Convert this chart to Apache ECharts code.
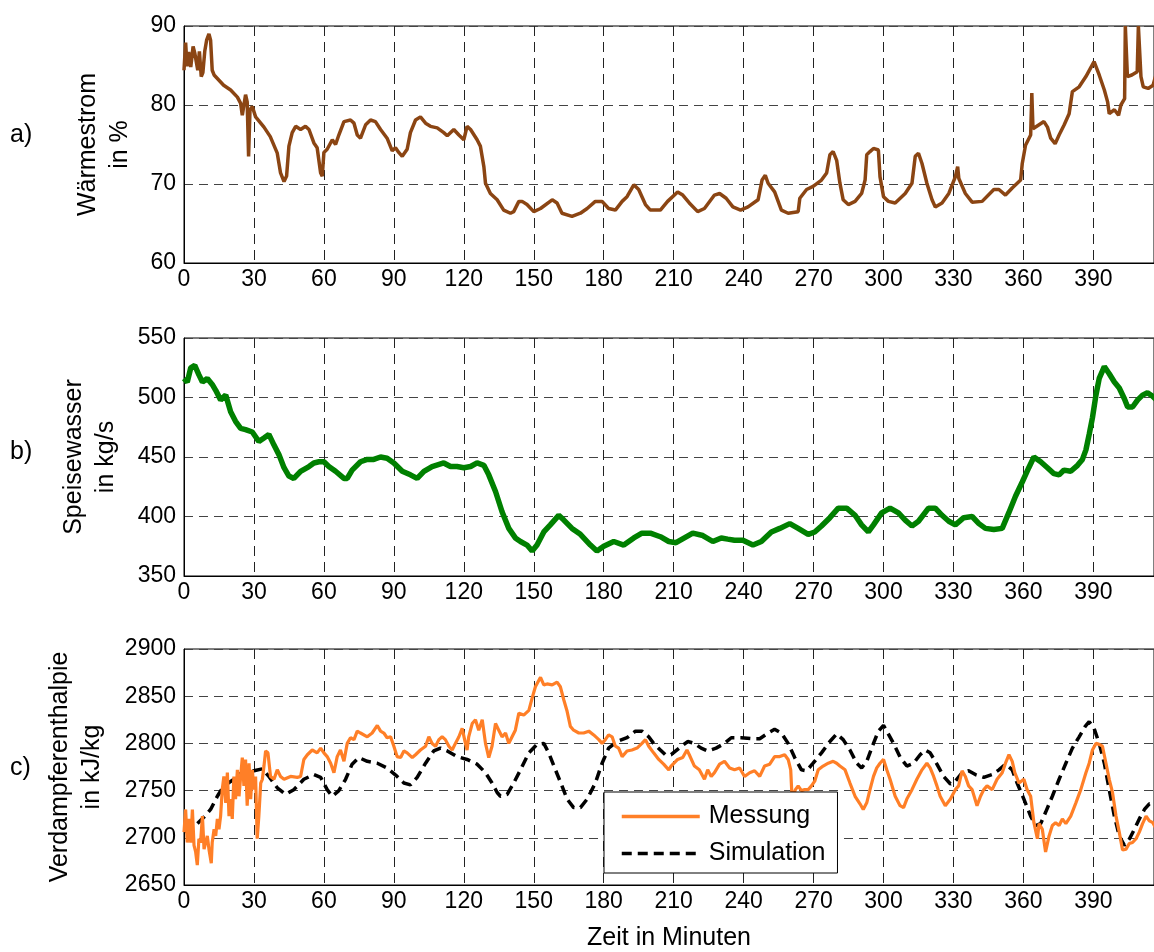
<!DOCTYPE html>
<html>
<head>
<meta charset="utf-8">
<script src="https://cdn.jsdelivr.net/npm/echarts@6/dist/echarts.min.js"></script>
<style>
  html, body { margin: 0; padding: 0; overflow: hidden; background: #fff; }
  #chart { width: 1160px; height: 952px; }
</style>
</head>
<body>
<div id="chart"></div>
<script>
// Panel captions, axis titles and legend entries
const panelLabels = ['a)', 'b)', 'c)'];
const yAxisTitles = ['Wärmestrom\nin %', 'Speisewasser\nin kg/s', 'Verdampferenthalpie\nin kJ/kg'];
const xAxisTitle = 'Zeit in Minuten';
const seriesNames = ['Messung', 'Simulation'];

// Axis ranges [min, max, interval]
const timeRange = [0, 416, 30];
const heatRange = [60, 90, 10];
const waterRange = [350, 550, 50];
const enthalpyRange = [2650, 2900, 50];

// a) Wärmestrom in % over time in minutes: [t, value]
const heatFlow = [
  [0,84.4],[0.7,87.9],[1.3,84.9],[2,86.7],[2.9,84.8],[3.9,87.4],[4.6,86.6],[5.9,84.4],[6.6,86.8],[7.4,83.6],
  [8.1,84.1],[8.9,86.8],[9.7,88.2],[10.7,89.0],[11.4,88.2],[12.1,84.4],[12.9,83.8],[17,82.5],[20,81.9],[22.9,81.0],
  [24.3,80.2],[25,78.7],[26.4,81.3],[27.1,80.4],[27.7,73.5],[28.3,79.4],[29.3,79.8],[30.7,78.5],[34.3,77.2],[37,76.0],
  [40,73.9],[41.4,71.4],[42.9,70.3],[44,71.0],[45,74.8],[46.4,76.5],[47.9,77.3],[50,76.9],[52.1,77.3],[53.6,76.9],
  [55.7,75.2],[57.1,74.6],[58.6,71.4],[59.3,71.0],[60,74.0],[61.4,74.4],[63.6,75.6],[65,75.0],[66.4,76.2],[68.6,77.9],
  [71.4,78.1],[72.9,77.7],[74.3,76.2],[75.7,75.8],[77.9,77.5],[80,78.1],[82.1,77.9],[84.3,76.9],[87.1,75.8],[89.3,74.2],
  [90.7,74.6],[92.1,74.0],[93.6,73.5],[95.7,74.4],[97.1,76.5],[99.3,78.1],[101.4,78.5],[103.6,77.7],[105.7,77.3],[108.6,77.1],
  [111.4,76.5],[112.9,76.1],[115.7,76.9],[117.9,76.2],[120,75.6],[121.4,77.3],[122.9,76.9],[125.7,75.6],[127.1,74.8],[128.6,72.2],
  [129.3,70.1],[131.4,68.8],[134.3,68.0],[137.1,66.7],[140,66.3],[141.4,66.5],[143.6,67.8],[145,67.8],[147.1,67.4],[150,66.5],
  [152.9,66.9],[157.9,68.0],[160,67.6],[162.1,66.3],[166.4,65.9],[170,66.3],[172.9,66.9],[176.4,67.8],[179.3,67.8],[182.1,66.9],
  [185,66.7],[187.9,67.8],[190,68.4],[192.9,69.9],[195,69.3],[197.9,67.4],[200,66.7],[204.3,66.7],[207.4,67.8],[211.7,69.0],
  [213.9,68.6],[216.7,67.6],[220.3,66.5],[223.2,66.9],[227.5,68.6],[229.7,68.8],[232.5,68.2],[235.4,67.1],[238.7,66.7],[241.9,67.1],
  [246.2,68.0],[247.9,70.5],[249.3,71.1],[250.5,70.1],[253.3,69.0],[256.2,66.7],[259.1,66.3],[263.4,66.5],[264.1,68.2],[267,69.3],
  [269.8,69.7],[273.4,70.5],[275.6,71.4],[277,73.7],[278.4,74.1],[279.9,73.0],[281.3,70.1],[282.7,68.0],[284.9,67.4],[287.8,67.8],
  [290.6,68.8],[292.1,70.5],[292.8,73.7],[294.2,74.1],[295.7,74.5],[297.8,74.3],[298.5,70.9],[300,68.4],[302.1,67.8],[305,67.6],
  [309.3,68.8],[312.2,70.1],[313.6,73.5],[315,73.9],[316.5,72.6],[318.6,70.1],[320.8,68.0],[322.2,67.1],[325.1,67.6],[328,68.8],
  [330.8,70.9],[331.8,72.2],[332.3,70.7],[335.1,68.8],[338,67.7],[342.3,67.8],[347.3,69.3],[349.5,69.3],[352.3,68.6],[355.2,69.5],
  [358.8,70.5],[359.5,72.6],[360.9,74.9],[363.1,76.2],[363.6,81.5],[364.1,77.0],[366.7,77.5],[368.8,77.9],[370.3,77.2],[371.7,75.8],
  [373.6,75.1],[375.3,76.2],[377.5,77.5],[379.6,78.9],[381,81.7],[383.9,82.3],[386.8,83.6],[390.3,85.5],[392.5,83.8],[394.7,81.9],
  [396.1,80.4],[396.8,78.9],[399,79.4],[400.8,78.7],[401.8,80.0],[403.4,80.8],[403.7,90],[404.3,90],[404.6,83.6],[406.5,83.8],
  [408.8,84.2],[409.3,90],[410.1,90],[410.4,83.6],[411.4,82.3],[413.5,82.1],[415.6,82.5],[417,84.0]
];

// b) Speisewasser in kg/s
const feedWater = [
  [0,516],[1.4,513],[2.9,525],[4.6,527],[6.4,519],[7.9,513],[10,516],[12.1,511],[13.6,506],[15.7,498],
  [17.9,502],[20,488],[22.1,480],[24.3,474],[26.4,473],[29.3,471],[32.1,463],[34.3,466],[36.4,469],[38.6,460],
  [40.7,452],[42.9,441],[45,434],[47.1,432],[50,438],[53.6,442],[55.7,445],[57.9,446],[60,446],[62.1,442],
  [65,438],[68.6,432],[70,432],[72.1,439],[75.7,446],[78.6,448],[81.4,448],[84.3,450],[87.1,449],[90,445],
  [93.6,438],[97.1,435],[100,432],[102.9,438],[106.4,442],[111.4,445],[114.3,442],[117.1,442],[120,441],[122.9,442],
  [125.7,445],[128.6,443],[130.7,435],[133.6,421],[136.4,404],[139.3,390],[142.1,382],[144.3,379],[147.1,376],[149.3,371],
  [151.4,376],[154.3,387],[157.1,393],[160.7,401],[162.9,397],[166.4,390],[170,385],[174.3,376],[177.1,371],[180,375],
  [184.3,379],[188.6,376],[192.9,382],[196.4,386],[200,386],[204.3,383],[207.9,379],[211,378],[214.6,382],[218.2,386],
  [222.5,384],[226.8,379],[230.4,382],[233.2,381],[236.1,380],[239.7,380],[244,376],[247.6,379],[251.9,387],[255.5,390],
  [259.8,394],[263.4,390],[267.7,385],[270.5,387],[273.4,392],[277,399],[280.6,407],[284.2,407],[287.8,401],[290.6,393],
  [293.5,387],[295.7,393],[299.2,403],[302.8,407],[306.4,403],[309.3,397],[312.2,392],[315,396],[319.3,407],[322.2,407],
  [325.1,401],[328,396],[330.8,393],[334.4,399],[338,400],[340.9,394],[343.7,390],[347.3,389],[350.9,390],[353.7,403],
  [356.6,417],[359.5,429],[362.3,441],[364.5,450],[367.4,446],[370.3,441],[373.1,436],[375.3,435],[377.4,439],[380.3,438],
  [383.2,443],[385.3,448],[386.8,456],[388.2,469],[389.6,483],[391.1,502],[392.5,516],[394.7,526],[396.8,520],[399,513],
  [401.1,508],[403.3,499],[404.7,492],[406.8,492],[409,498],[411.1,502],[413.2,504],[415.4,501],[417,498]
];

// c) Verdampferenthalpie in kJ/kg, measured
const enthalpyMeasured = [
  [0,2706],[0.7,2730],[1.4,2695],[2.1,2720],[2.9,2695],[3.6,2730],[4.3,2692],[5,2685],[5.7,2671],[6.4,2699],
  [7.1,2695],[7.9,2723],[8.6,2688],[9.3,2695],[10,2702],[10.7,2688],[11.7,2673],[12.1,2695],[12.9,2709],[13.6,2702],
  [14.3,2720],[15,2709],[15.7,2723],[16.4,2751],[17.1,2765],[17.9,2737],[18.6,2769],[19.3,2723],[20,2741],[20.7,2720],
  [21.4,2765],[22.1,2741],[22.9,2772],[23.6,2744],[24.3,2765],[25,2785],[25.7,2755],[26.4,2783],[27.1,2734],[27.9,2779],
  [28.6,2741],[29.3,2772],[30,2751],[30.7,2765],[31.4,2699],[32.1,2723],[32.9,2758],[33.6,2762],[34.3,2776],[35,2792],
  [36,2790],[37.1,2765],[38.6,2762],[40,2772],[41.4,2765],[42.9,2762],[45.7,2765],[48.6,2764],[50,2765],[51.4,2783],
  [52.9,2788],[55,2793],[57.1,2790],[58.6,2795],[60,2790],[61.4,2786],[62.9,2779],[64.3,2769],[65.7,2786],[67.1,2793],
  [68.6,2781],[70,2800],[71.4,2806],[72.9,2804],[74.3,2813],[75.7,2811],[78.6,2807],[80.7,2811],[82.9,2819],[84.3,2813],
  [85.7,2811],[87.1,2806],[88.6,2807],[90,2797],[91.4,2786],[92.9,2785],[94.3,2792],[95.7,2790],[97.9,2785],[99.3,2788],
  [101.4,2793],[103.6,2797],[105,2807],[106.4,2800],[107.9,2797],[109.3,2804],[110.7,2807],[112.1,2804],[113.6,2797],[115,2793],
  [116.4,2800],[117.9,2807],[119.3,2816],[120.7,2800],[121.4,2793],[122.1,2807],[123.6,2821],[125,2825],[126.4,2814],[127.9,2825],
  [129.3,2800],[130.7,2785],[132.1,2797],[133.6,2821],[135,2814],[136.4,2807],[137.9,2811],[139.3,2800],[140.7,2807],[142.1,2814],
  [143.6,2832],[145.7,2830],[147.9,2835],[149.3,2848],[150.7,2860],[152.9,2870],[154.3,2862],[155.7,2863],[157.9,2862],[160,2865],
  [161.4,2860],[162.9,2846],[164.3,2834],[165.7,2818],[167.1,2814],[169.3,2811],[171.4,2811],[173.6,2813],[175.7,2809],[177.9,2804],
  [179.3,2800],[180.7,2804],[182.1,2809],[183.6,2807],[185,2797],[186.4,2795],[187.9,2786],[190,2792],[192.1,2793],[194.3,2795],
  [196.4,2800],[197.9,2804],[199.3,2797],[201.4,2790],[203.6,2783],[205.7,2778],[207.9,2772],[208.9,2776],[211.7,2783],[213.9,2785],
  [215.7,2793],[216.7,2788],[218.9,2776],[221,2772],[223.2,2762],[224.6,2772],[226.1,2765],[227.5,2769],[229.7,2778],[231.8,2781],
  [234,2774],[236.1,2772],[238.3,2774],[240.4,2765],[242.6,2769],[244.7,2771],[246.9,2765],[249,2776],[251.2,2778],[253.3,2786],
  [255.5,2786],[257.6,2788],[259.1,2783],[260.2,2772],[260.8,2741],[262.2,2751],[263.4,2755],[264.8,2750],[266.2,2751],[267.7,2751],
  [269.1,2755],[270.5,2760],[272,2772],[274.1,2776],[276.3,2779],[278.4,2781],[279.9,2779],[281.3,2776],[283.5,2772],[285.6,2758],
  [287.8,2744],[289.9,2736],[291.3,2730],[292.8,2737],[294.2,2751],[295.7,2765],[297.1,2774],[298.5,2779],[300,2783],[301.4,2772],
  [302.8,2762],[305,2744],[307.1,2734],[308.6,2732],[310,2741],[312.2,2751],[314.3,2762],[316.5,2772],[318.6,2779],[320,2774],
  [321.5,2765],[322.9,2755],[324.3,2744],[326.5,2734],[328.7,2741],[330.8,2751],[332.2,2755],[333.7,2771],[335.1,2765],[336.5,2755],
  [338,2751],[340.1,2734],[341.6,2744],[343,2751],[344.4,2755],[346.6,2751],[348.7,2762],[350.9,2769],[352.3,2779],[353.8,2788],
  [355.2,2781],[356.3,2769],[358.1,2758],[360.2,2762],[361.6,2751],[363.1,2744],[364.5,2716],[366,2699],[366.7,2715],[368.1,2709],
  [369.5,2685],[371,2702],[372.4,2713],[373.8,2716],[375.3,2713],[376.7,2720],[378.2,2715],[380.3,2723],[382.5,2737],[384.6,2751],
  [386.8,2769],[388.2,2779],[389.6,2793],[391.1,2800],[392.5,2799],[393.9,2797],[395.4,2779],[396.8,2762],[398.2,2748],[399.7,2723],
  [401.1,2706],[402.5,2687],[404,2688],[405.4,2694],[406.8,2695],[408.3,2699],[409.7,2706],[411.1,2715],[412.6,2723],[414,2718],
  [415.5,2716],[417,2709]
];

// c) Verdampferenthalpie in kJ/kg, simulated
const enthalpySimulated = [
  [0,2706],[2.9,2711],[5.7,2715],[8.6,2722],[11.4,2730],[14.3,2744],[17.1,2755],[21.4,2762],[25.7,2771],[30,2771],
  [33.6,2773],[36.4,2765],[40,2753],[43.6,2746],[47.1,2751],[51.4,2762],[55.7,2767],[58.6,2764],[61.4,2751],[63.6,2744],
  [66.4,2750],[69.3,2762],[72.1,2778],[75,2785],[78.6,2781],[82.9,2779],[87.1,2774],[91.4,2765],[94.3,2758],[97.1,2756],
  [100,2764],[103.6,2779],[107.1,2792],[110,2795],[112.9,2792],[117.1,2786],[121.4,2783],[125.7,2778],[129.3,2769],[132.1,2758],
  [134.3,2748],[135.7,2744],[138.6,2746],[141.4,2758],[144.3,2772],[147.9,2790],[151.4,2799],[154.3,2800],[156.4,2790],[159.3,2772],
  [162.1,2755],[164.3,2741],[167.1,2732],[170,2732],[172.9,2741],[176.4,2758],[179.3,2779],[182.1,2795],[185.7,2802],[190,2806],
  [193.6,2813],[196.4,2813],[199.3,2807],[201.4,2800],[204.3,2793],[206.4,2788],[208.9,2788],[212.4,2795],[216,2802],[218.9,2800],
  [221.8,2795],[224.6,2792],[228.2,2795],[231.8,2800],[234.7,2806],[239,2806],[243.3,2805],[246.9,2805],[250.5,2811],[253.3,2815],
  [256.2,2811],[259.1,2800],[261.9,2785],[264.8,2772],[267,2771],[269.8,2779],[273.4,2790],[277,2802],[279.9,2810],[282.7,2804],
  [285.6,2793],[288.5,2779],[290.6,2774],[292.8,2781],[295.7,2800],[297.8,2813],[300,2819],[301.4,2813],[304.3,2800],[307.2,2785],
  [310,2776],[312.9,2779],[315.7,2788],[317.9,2793],[320,2790],[322.9,2778],[325.8,2765],[328.7,2757],[330.8,2760],[333.7,2769],
  [336.5,2771],[339.4,2767],[343,2764],[346.6,2767],[349.5,2772],[352.3,2778],[355.2,2772],[357.3,2758],[360.2,2741],[363.1,2723],
  [365.2,2713],[367.4,2715],[369.5,2727],[372.4,2744],[375.3,2762],[378.2,2779],[381,2795],[383.9,2807],[386.5,2818],[388.2,2823],
  [390.3,2816],[392.5,2800],[394.7,2779],[396.8,2751],[399,2723],[401.1,2702],[403.3,2692],[405.5,2699],[407.6,2709],[409.7,2720],
  [411.9,2730],[414,2736],[417,2736]
];

const FONT = '"Liberation Sans", Arial, Helvetica, sans-serif';
const chart = echarts.init(document.getElementById('chart'), null, { renderer: 'canvas' });

const panelTops = [26, 338, 649];
const panelHeights = [237, 238, 238];
const yRanges = [heatRange, waterRange, enthalpyRange];
const yNameGaps = [48, 62, 76];
const labelY = [135, 452, 768];

const grids = panelTops.map((top, i) => ({
  left: 184, top: top, width: 970, height: panelHeights[i],
  show: true, borderColor: '#000', borderWidth: 1, backgroundColor: 'transparent'
}));

const xAxes = panelTops.map((_, i) => ({
  gridIndex: i, type: 'value',
  min: timeRange[0], max: timeRange[1], interval: timeRange[2],
  axisLine: { show: true, onZero: false, lineStyle: { color: '#000', width: 1 } },
  axisTick: { show: false },
  axisLabel: {
    color: '#000', fontSize: 23, fontFamily: FONT, margin: 5,
    formatter: v => (v % timeRange[2] === 0 ? String(v) : '')
  },
  splitLine: { show: true, lineStyle: { color: '#222', width: 1, type: [10, 6] } },
  name: i === 2 ? xAxisTitle : '',
  nameLocation: 'middle', nameGap: 41,
  nameTextStyle: { color: '#000', fontSize: 25, fontFamily: FONT }
}));

const yAxes = yRanges.map((r, i) => ({
  gridIndex: i, type: 'value', min: r[0], max: r[1], interval: r[2],
  axisLine: { show: true, lineStyle: { color: '#000', width: 1 } },
  axisTick: { show: false },
  axisLabel: { color: '#000', fontSize: 23, fontFamily: FONT, margin: 8, formatter: v => String(v) },
  splitLine: { show: true, lineStyle: { color: '#444', width: 1, type: [9, 6] } },
  name: yAxisTitles[i], nameLocation: 'middle', nameGap: yNameGaps[i],
  nameTextStyle: { color: '#000', fontSize: 25, lineHeight: 32, fontFamily: FONT }
}));

const lineBase = { type: 'line', symbol: 'none', showSymbol: false, clip: true, silent: true, animation: false };

chart.setOption({
  animation: false,
  grid: grids,
  xAxis: xAxes,
  yAxis: yAxes,
  legend: {
    data: seriesNames,
    orient: 'vertical', left: 604, top: 792,
    padding: [12, 12, 7, 16],
    itemWidth: 78, itemHeight: 26, itemGap: 12,
    backgroundColor: '#fff', borderColor: '#000', borderWidth: 1, borderRadius: 0,
    selectedMode: false,
    itemStyle: { opacity: 0 },
    lineStyle: { width: 3.5 },
    textStyle: { color: '#000', fontSize: 25, fontFamily: FONT, padding: [0, 0, 0, 4] }
  },
  graphic: panelLabels.map((t, i) => ({
    type: 'text', x: 10, y: labelY[i], silent: true,
    style: { text: t, fill: '#000', font: '25px ' + FONT, align: 'left', verticalAlign: 'middle' }
  })),
  series: [
    Object.assign({}, lineBase, {
      name: 'Wärmestrom', xAxisIndex: 0, yAxisIndex: 0, data: heatFlow,
      lineStyle: { color: '#8B4513', width: 3.5 }, itemStyle: { color: '#8B4513' }
    }),
    Object.assign({}, lineBase, {
      name: 'Speisewasser', xAxisIndex: 1, yAxisIndex: 1, data: feedWater,
      lineStyle: { color: '#008000', width: 5.5 }, itemStyle: { color: '#008000' }
    }),
    Object.assign({}, lineBase, {
      name: seriesNames[1], xAxisIndex: 2, yAxisIndex: 2, data: enthalpySimulated,
      lineStyle: { color: '#000', width: 3.5, type: [10, 6] }, itemStyle: { color: '#000' }
    }),
    Object.assign({}, lineBase, {
      name: seriesNames[0], xAxisIndex: 2, yAxisIndex: 2, data: enthalpyMeasured,
      lineStyle: { color: '#FF7F27', width: 3.2 }, itemStyle: { color: '#FF7F27' }
    })
  ]
});
</script>
</body>
</html>
